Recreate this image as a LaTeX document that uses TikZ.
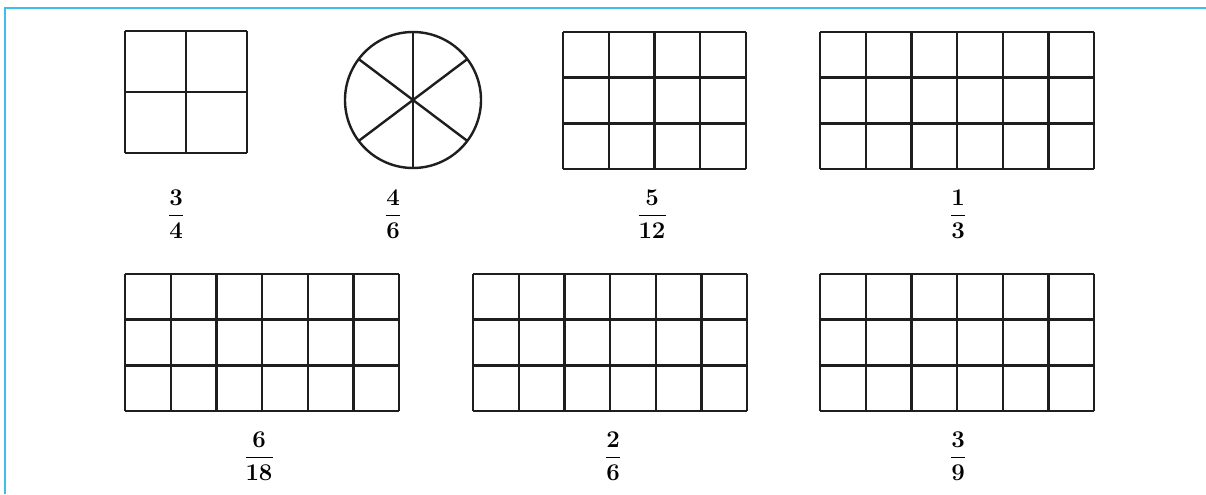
\documentclass[tikz,border=0pt]{standalone}
\usepackage{amsmath,amssymb}
\usepackage{xcolor}
\usepackage{tikz}
\usetikzlibrary{calc,positioning}
\definecolor{framec}{HTML}{3FBDEB}
\definecolor{inkc}{HTML}{1E1E1E}
\tikzset{
  cell/.style={draw=inkc,line width=1.2pt},
  frac/.style={inner sep=0pt,font=\large}
}
\newcommand{\fr}[2]{$\dfrac{\mathbf{#1}}{\mathbf{#2}}$}

\begin{document}
\begin{tikzpicture}[x=0.5pt,y=0.5pt]
\useasboundingbox (0,0) rectangle (1206,494);
% frame
\draw[framec,line width=1pt] (1206,486) -- (5,486) -- (5,0);
% top row
\draw[cell,shift={(125,341)}] (0,0) grid[step=61] (122.1,122.1);
\draw[cell] (413,394) circle (68);
\foreach \a in {90,37,143}{\draw[cell] (413,394) ++(\a:68) -- ++(\a+180:136);}
\draw[cell,shift={(563,325)}] (0,0) grid[step=45.7] (182.9,137.2);
\draw[cell,shift={(820,325)}] (0,0) grid[step=45.7] (274.3,137.2);
% bottom row
\draw[cell,shift={(125,83)}] (0,0) grid[step=45.7] (274.3,137.2);
\draw[cell,shift={(473,83)}] (0,0) grid[step=45.7] (274.3,137.2);
\draw[cell,shift={(820,83)}] (0,0) grid[step=45.7] (274.3,137.2);
% fractions
\node[frac] (fa) at (176,280) {\fr{3}{4}};
\node[frac] (fb) at (393,280) {\fr{4}{6}};
\node[frac] (fc) at (652,280) {\fr{5}{12}};
\node[frac] (fd) at (958,280) {\fr{1}{3}};
\node[frac] (fe) at (259,38) {\fr{6}{18}};
\node[frac] (ff) at (613,38) {\fr{2}{6}};
\node[frac] (fg) at (958,38) {\fr{3}{9}};
\end{tikzpicture}
\end{document}
